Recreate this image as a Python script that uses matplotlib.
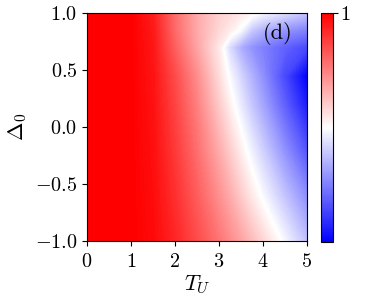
import numpy as np
import matplotlib
matplotlib.use('Agg')
import matplotlib.pyplot as plt

plt.rcParams['font.family'] = 'serif'
plt.rcParams['font.serif'] = ['cmr10']
plt.rcParams['mathtext.fontset'] = 'cm'
plt.rcParams['axes.formatter.use_mathtext'] = True

# grid (rows = Delta_0, columns = T_U)
T_U = [0, 1, 1.5, 2, 2.5, 3, 3.25, 3.5, 3.75, 4, 4.5, 5]
delta0 = [-1.0, -0.6, -0.2, 0.2, 0.45, 0.7, 0.85, 1.0]

row_m10 = [1, 1, 0.96, 0.85, 0.70, 0.54, 0.45, 0.36, 0.26, 0.16, -0.04, -0.25]
row_m06 = [1, 1, 0.95, 0.81, 0.63, 0.43, 0.32, 0.20, 0.08, -0.03, -0.24, -0.45]
row_m02 = [1, 1, 0.94, 0.77, 0.56, 0.32, 0.19, 0.06, -0.07, -0.19, -0.44, -0.68]
row_02 = [1, 1, 0.93, 0.73, 0.49, 0.20, 0.05, -0.09, -0.23, -0.36, -0.63, -0.90]
row_045 = [1, 1, 0.92, 0.70, 0.44, 0.13, -0.03, -0.17, -0.31, -0.44, -0.72, -1.00]
row_07 = [1, 1, 0.91, 0.62, 0.35, 0.08, -0.15, -0.32, -0.43, -0.50, -0.62, -0.72]
row_085 = [1, 1, 0.90, 0.58, 0.33, 0.15, 0.07, -0.03, -0.22, -0.31, -0.42, -0.50]
row_10 = [1, 1, 0.88, 0.57, 0.33, 0.18, 0.14, 0.09, 0.03, -0.04, -0.14, -0.24]

Z = np.array([row_m10, row_m06, row_m02, row_02, row_045, row_07, row_085, row_10])

fig = plt.figure(figsize=(3.74, 2.99), dpi=100)
ax = fig.add_axes([0.2326, 0.194, 0.588, 0.7625])
cax = fig.add_axes([0.858, 0.191, 0.032, 0.7655])

cs = ax.contourf(T_U, delta0, Z, levels=np.linspace(-1, 1, 201), cmap='bwr', vmin=-1, vmax=1)
cs.set_edgecolor('face')
cs.set_linewidth(0.3)

ax.set_xlim(0, 5)
ax.set_ylim(-1, 1)
ax.set_xticks([0, 1, 2, 3, 4, 5])
ax.set_yticks([-1.0, -0.5, 0.0, 0.5, 1.0])
ax.tick_params(labelsize=14.5)
ax.tick_params(axis='x', pad=5)
ax.set_xlabel(r'$T_U$', fontsize=16, labelpad=2)
ax.set_ylabel(r'$\Delta_0$', fontsize=16, labelpad=4)
ax.text(0.935, 0.96, '(d)', transform=ax.transAxes, ha='right', va='top', fontsize=16)

cb = fig.colorbar(cs, cax=cax, ticks=[1])
cb.ax.tick_params(labelsize=14.5, pad=2)
cb.ax.set_yticklabels(['1'])

fig.savefig('out.png', dpi=100)
